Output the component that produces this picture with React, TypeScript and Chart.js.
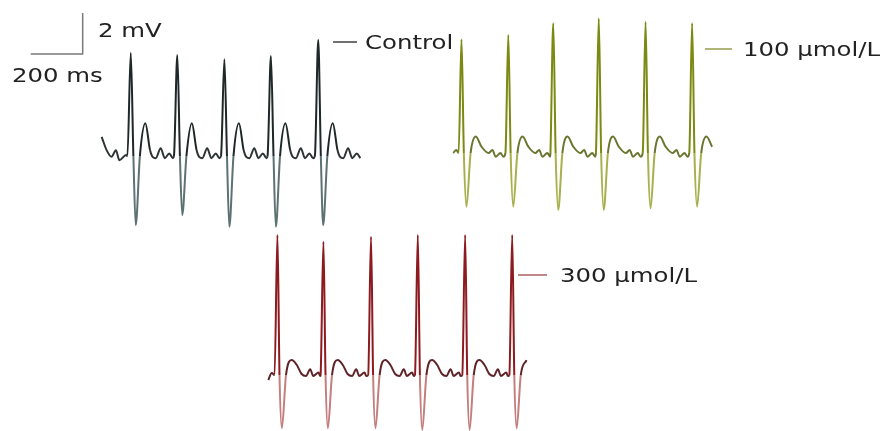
import React, { useEffect, useRef } from "react";
import { Chart, registerables } from "chart.js";

Chart.register(...registerables);

// ---- Data (time in ms, voltage in mV) ----
// Control trace
const controlLeadMs = [0, 19, 38, 55, 68, 94];
const controlLeadMv = [0.94, 0.29, -0.03, 0.29, -0.2, 0.05];
const controlRTimes = [112, 291, 472, 651, 833];
const controlRAmp = [5.04, 4.93, 4.72, 4.88, 5.66];
const controlSAmp = [-3.37, -2.88, -3.45, -3.45, -3.37];
const controlBeatMs = [-13, 0, 10, 19, 35, 56, 74, 85, 96, 115, 131, 148, 162];
const controlBeatMv = [0, 1, 0, -1, 0, 1.6, 0.3, -0.05, -0.1, 0.38, -0.1, 0.13, -0.1];
const controlEndMs = 1005;

// 100 µmol/L trace
const t100LeadMs = [0, 12];
const t100LeadMv = [0, 0.15];
const t100RTimes = [32, 212, 385, 560, 740, 919];
const t100RAmp = [5.55, 5.76, 6.33, 6.57, 6.4, 6.33];
const t100SAmp = [-2.62, -2.62, -2.78, -2.78, -2.7, -2.62];
const t100BeatMs = [-11, 0, 9, 19, 35, 55, 77, 104, 119, 131, 150, 161];
const t100BeatMv = [0, 1, 0, -1, 0, 0.8, 0.31, 0, 0.15, -0.18, 0, -0.18];
const t100EndMs = 996;

// 300 µmol/L trace
const t300LeadMs = [0, 13];
const t300LeadMv = [-0.24, 0.1];
const t300RTimes = [35, 212, 395, 575, 757, 938];
const t300RAmp = [6.83, 6.5, 6.75, 6.83, 6.83, 6.83];
const t300SAmp = [-2.6, -2.6, -2.6, -2.68, -2.68, -2.6];
const t300BeatMs = [-11, 0, 8, 17, 33, 55, 74, 93, 110, 126, 138, 158, 165];
const t300BeatMv = [0, 1, 0, -1, 0, 0.73, 0.5, 0.05, -0.05, 0.28, -0.05, 0.12, -0.05];
const t300EndMs = 993;

// Scale bar (200 ms, 2 mV)
const scaleBarMs = [118, 318, 318];
const scaleBarMv = [18.39, 18.39, 20.39];

// ---- Layout ----
const W = 884;
const H = 431;
const X_MAX = (W * 200) / 52; // ms across the canvas
const Y_MAX = (H * 2) / 41; // mV across the canvas

type Pt = { x: number; y: number };

function buildTrace(
  leadMs: number[],
  leadMv: number[],
  rTimes: number[],
  rAmp: number[],
  sAmp: number[],
  beatMs: number[],
  beatMv: number[],
  endMs: number,
  startMs: number,
  baseMv: number
): Pt[] {
  const pts: Pt[] = [];
  leadMs.forEach((t, i) => pts.push({ x: startMs + t, y: baseMv + leadMv[i] }));
  rTimes.forEach((rt, b) => {
    beatMs.forEach((dt, j) => {
      const t = rt + dt;
      if (t > endMs) return;
      const v = j === 1 ? rAmp[b] : j === 3 ? sAmp[b] : beatMv[j];
      pts.push({ x: startMs + t, y: baseMv + v });
    });
  });
  return pts;
}

function segColor(base: number, spike: string, mid: string, low: string) {
  return (ctx: any) => {
    const a = ctx.p0.parsed.y - base;
    const b = ctx.p1.parsed.y - base;
    if (Math.max(a, b) > 1.2) return spike;
    if (Math.min(a, b) < -0.6) return low;
    return mid;
  };
}

const labelStyle: React.CSSProperties = {
  position: "absolute",
  fontFamily: "'DejaVu Sans', sans-serif",
  fontSize: 20,
  lineHeight: "20px",
  color: "#222",
  whiteSpace: "nowrap",
  transform: "scaleX(1.22)",
  transformOrigin: "left center",
};

function Swatch({ x1, x2, y, color }: { x1: number; x2: number; y: number; color: string }) {
  return (
    <div
      style={{
        position: "absolute",
        left: x1,
        top: y - 1,
        width: x2 - x1,
        height: 2,
        background: color,
      }}
    />
  );
}

export default function App() {
  const ref = useRef<HTMLCanvasElement | null>(null);

  useEffect(() => {
    if (!ref.current) return;
    const controlBase = 13.41;
    const base100 = 13.56;
    const base300 = 2.73;
    const control = buildTrace(controlLeadMs, controlLeadMv, controlRTimes, controlRAmp, controlSAmp, controlBeatMs, controlBeatMv, controlEndMs, 391, controlBase);
    const d100 = buildTrace(t100LeadMs, t100LeadMv, t100RTimes, t100RAmp, t100SAmp, t100BeatMs, t100BeatMv, t100EndMs, 1743, base100);
    const d300 = buildTrace(t300LeadMs, t300LeadMv, t300RTimes, t300RAmp, t300SAmp, t300BeatMs, t300BeatMv, t300EndMs, 1032, base300);
    const bar = scaleBarMs.map((t, i) => ({ x: t, y: scaleBarMv[i] }));

    const common = {
      pointRadius: 0,
      borderWidth: 2,
      fill: false,
      cubicInterpolationMode: "monotone" as const,
    };

    const chart = new Chart(ref.current, {
      type: "line",
      data: {
        datasets: [
          {
            label: "Control",
            data: control,
            ...common,
            borderColor: "#2e3434",
            segment: { borderColor: segColor(controlBase, "#1f2828", "#2e3434", "#5d7272") },
          },
          {
            label: "100 µmol/L",
            data: d100,
            ...common,
            borderColor: "#6b7530",
            segment: { borderColor: segColor(base100, "#7a8a12", "#6b7530", "#a7b04c") },
          },
          {
            label: "300 µmol/L",
            data: d300,
            ...common,
            borderColor: "#5e2428",
            segment: { borderColor: segColor(base300, "#8c1a1f", "#5e2428", "#c47e7e") },
          },
          {
            label: "scale",
            data: bar,
            pointRadius: 0,
            borderWidth: 1.5,
            borderColor: "#7a7a7a",
            fill: false,
            tension: 0,
          },
        ],
      },
      options: {
        animation: false,
        responsive: false,
        devicePixelRatio: 1,
        layout: { padding: 0 },
        parsing: false,
        normalized: true,
        plugins: { legend: { display: false }, tooltip: { enabled: false }, title: { display: false } },
        events: [],
        scales: {
          x: { type: "linear", min: 0, max: X_MAX, display: false },
          y: { type: "linear", min: 0, max: Y_MAX, display: false },
        },
      },
    });
    return () => chart.destroy();
  }, []);

  return (
    <div style={{ position: "absolute", left: 0, top: 0, width: W, height: H, background: "#fff" }}>
      <canvas ref={ref} width={W} height={H} style={{ position: "absolute", left: 0, top: 0 }} />
      <div style={{ ...labelStyle, left: 98, top: 20 }}>2 mV</div>
      <div style={{ ...labelStyle, left: 12, top: 65 }}>200 ms</div>
      <Swatch x1={333} x2={357} y={41.5} color="#707070" />
      <div style={{ ...labelStyle, left: 365, top: 32 }}>Control</div>
      <Swatch x1={705} x2={732} y={49} color="#b0b67a" />
      <div style={{ ...labelStyle, left: 743, top: 39 }}>100 µmol/L</div>
      <Swatch x1={518} x2={547} y={275} color="#c08888" />
      <div style={{ ...labelStyle, left: 560, top: 265 }}>300 µmol/L</div>
    </div>
  );
}
